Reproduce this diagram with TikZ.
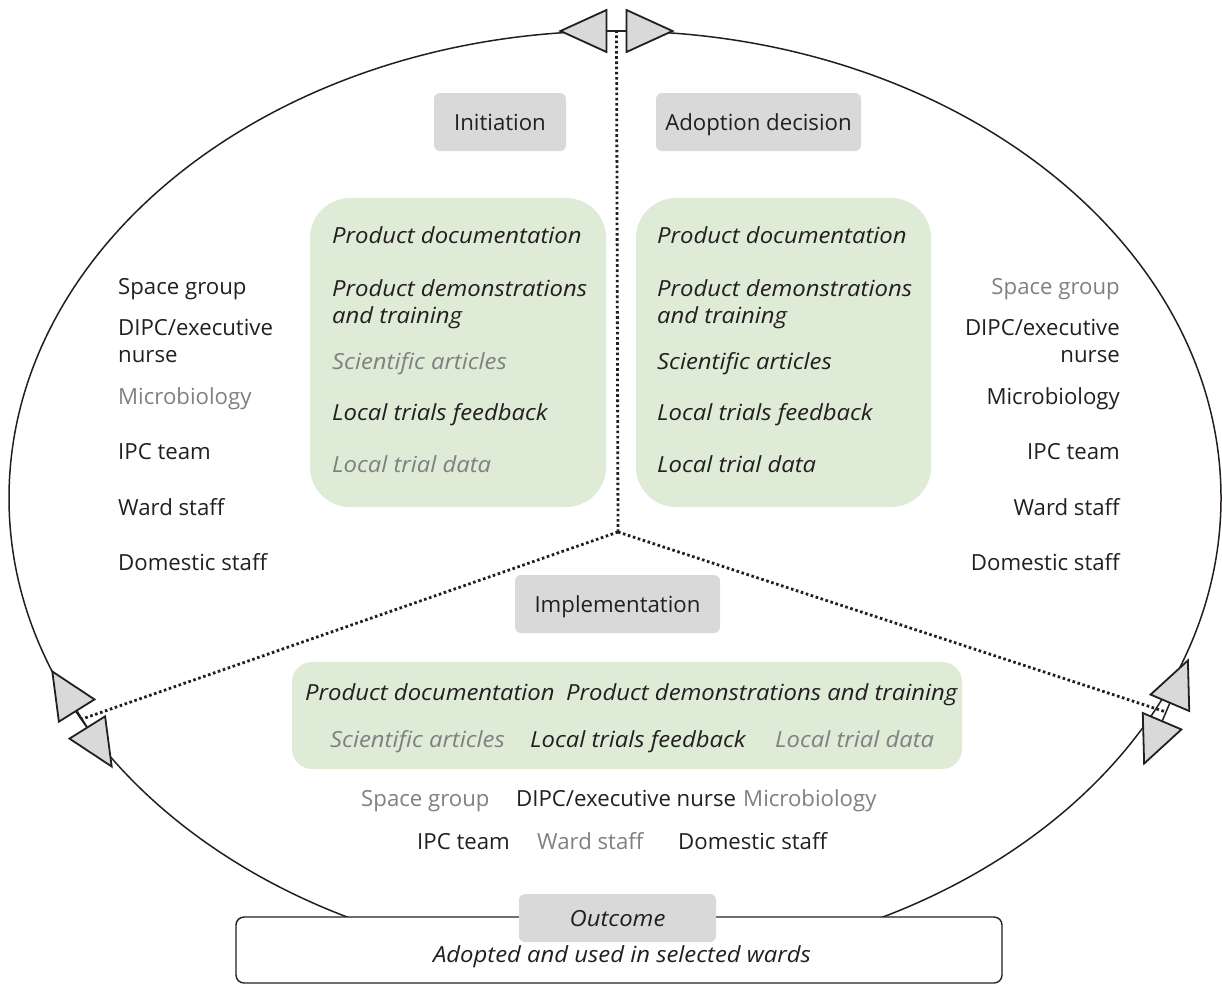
\documentclass[tikz,border=0pt]{standalone}
\usepackage{fontspec}
\setmainfont{Open Sans}[ItalicFeatures={FakeStretch=1.075}]
\usetikzlibrary{calc}
\definecolor{ink}{HTML}{231F20}
\definecolor{muted}{HTML}{808080}
\definecolor{leaf}{HTML}{DDEBD7}
\definecolor{stage}{HTML}{D9D9D9}
% a wedge at junction #1 pointing along direction #2
\newcommand\wedgeat[2]{%
  \draw[tri] ($(#1)+(#2:10)+(#2+90:21)$) -- ($(#1)+(#2:56)$)
    -- ($(#1)+(#2:10)+(#2-90:21)$) -- cycle;}
\begin{document}
\begin{tikzpicture}[x=1pt,y=-1pt,
  txt/.style={inner sep=0pt, text=ink, font=\fontsize{22.2}{27}\selectfont},
  src/.style={txt, font=\fontsize{22.2}{27}\selectfont\itshape},
  dim/.style={text=muted},
  stagebox/.style={fill=stage, rounded corners=6pt, inner sep=0pt, text=ink,
    font=\fontsize{22.2}{27}\selectfont, text height=16pt, text depth=0pt},
  greenbox/.style={fill=leaf, draw=none, inner sep=0pt},
  ring/.style={line width=1.5pt, draw=ink},
  divider/.style={line width=2.8pt, dash pattern=on 2.6pt off 2.6pt, draw=ink},
  tri/.style={fill=stage, draw=ink, line width=1.8pt, line join=miter},
]
\useasboundingbox (0,0) rectangle (1222,983);

% cycle ring
\draw[ring] (615,498) ellipse [x radius=606pt, y radius=467pt];

% junctions and centre
\coordinate (jtop) at (616.5,31);
\coordinate (jleft) at (82,719);
\coordinate (jright) at (1166,712);
\coordinate (hub) at (618,532);

% sector dividers
\draw[divider] (hub) -- (jtop);
\draw[divider] (hub) -- (jleft);
\draw[divider] (hub) -- (jright);

% green source panels
\node[greenbox, rounded corners=40pt, minimum width=296pt, minimum height=309pt] (srcA) at (458,352.5) {};
\node[greenbox, rounded corners=40pt, minimum width=295pt, minimum height=309pt] (srcB) at (783.5,352.5) {};
\node[greenbox, rounded corners=20pt, minimum width=670pt, minimum height=107pt] (srcC) at (627,715.5) {};

% stage labels
\node[stagebox, minimum width=132pt, minimum height=58pt] (init) at (500,122) {Initiation};
\node[stagebox, minimum width=205pt, minimum height=58pt] (adopt) at (758.5,122) {Adoption decision};
\node[stagebox, minimum width=205pt, minimum height=58pt] (impl) at (617.5,604) {Implementation};

% initiation sources
\node[src, anchor=base west] (a1) at (332,243) {Product documentation};
\node[src, anchor=base west, align=left] (a2) at (332,323) {Product demonstrations\\and training};
\node[src, dim, anchor=base west] (a3) at (332,369) {Scientific articles};
\node[src, anchor=base west] (a4) at (332,420) {Local trials feedback};
\node[src, dim, anchor=base west] (a5) at (332,472) {Local trial data};

% adoption sources
\node[src, anchor=base west] (b1) at (657,243) {Product documentation};
\node[src, anchor=base west, align=left] (b2) at (657,323) {Product demonstrations\\and training};
\node[src, anchor=base west] (b3) at (657,369) {Scientific articles};
\node[src, anchor=base west] (b4) at (657,420) {Local trials feedback};
\node[src, anchor=base west] (b5) at (657,472) {Local trial data};

% implementation sources
\node[src, anchor=base west] (c1) at (305,700) {Product documentation};
\node[src, anchor=base west] (c2) at (566,700) {Product demonstrations and training};
\node[src, dim, anchor=base west] (c3) at (330,747) {Scientific articles};
\node[src, anchor=base west] (c4) at (530,747) {Local trials feedback};
\node[src, dim, anchor=base west] (c5) at (775,747) {Local trial data};

% initiation actors
\node[txt, anchor=base west] (p1) at (118,294) {Space group};
\node[txt, anchor=base west, align=left] (p2) at (118,362) {DIPC/executive\\nurse};
\node[txt, dim, anchor=base west] (p3) at (118,404) {Microbiology};
\node[txt, anchor=base west] (p4) at (118,459) {IPC team};
\node[txt, anchor=base west] (p5) at (118,515) {Ward staff};
\node[txt, anchor=base west] (p6) at (118,570) {Domestic staff};

% adoption actors
\node[txt, dim, anchor=base east] (q1) at (1120,294) {Space group};
\node[txt, anchor=base east, align=right] (q2) at (1120,362) {DIPC/executive\\nurse};
\node[txt, anchor=base east] (q3) at (1120,404) {Microbiology};
\node[txt, anchor=base east] (q4) at (1120,459) {IPC team};
\node[txt, anchor=base east] (q5) at (1120,515) {Ward staff};
\node[txt, anchor=base east] (q6) at (1120,570) {Domestic staff};

% implementation actors
\node[txt, dim, anchor=base west] (r1) at (361,806) {Space group};
\node[txt, anchor=base west] (r2) at (516,806) {DIPC/executive nurse};
\node[txt, dim, anchor=base west] (r3) at (743,806) {Microbiology};
\node[txt, anchor=base west] (r4) at (417,849) {IPC team};
\node[txt, dim, anchor=base west] (r5) at (537,849) {Ward staff};
\node[txt, anchor=base west] (r6) at (678,849) {Domestic staff};

% direction wedges at the junctions
\draw[ring] ($(jtop)+(0:10)$) -- ($(jtop)+(180:10)$);
\wedgeat{jtop}{0}
\wedgeat{jtop}{180}
\draw[ring] ($(jleft)+(58:10)$) -- ($(jleft)+(238:10)$);
\wedgeat{jleft}{58}
\wedgeat{jleft}{238}
\draw[ring] ($(jright)+(113:10)$) -- ($(jright)+(293:10)$);
\wedgeat{jright}{113}
\wedgeat{jright}{293}

% outcome
\node[draw=ink, fill=white, line width=1.4pt, rounded corners=8pt, inner sep=0pt,
  minimum width=766pt, minimum height=66pt] (outbox) at (619,950) {};
\node[stagebox, font=\fontsize{22.2}{27}\selectfont\itshape, minimum width=197pt, minimum height=48pt] (outc) at (617.5,918) {Outcome};
\node[src, anchor=base] (result) at (622,962) {Adopted and used in selected wards};
\end{tikzpicture}
\end{document}
